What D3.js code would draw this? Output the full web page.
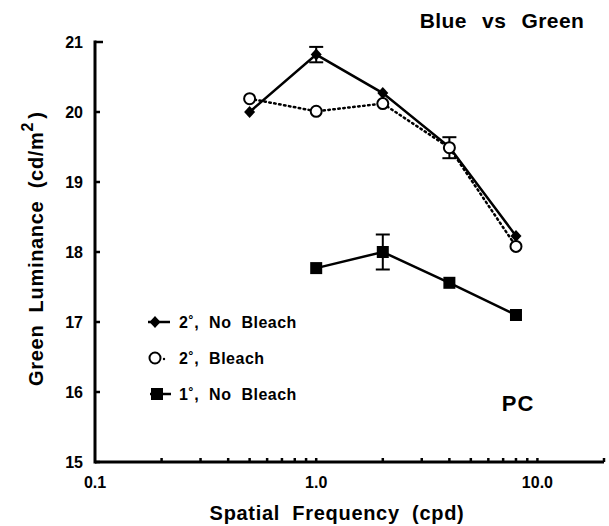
<!DOCTYPE html>
<html><head><meta charset="utf-8">
<script src="https://cdn.jsdelivr.net/npm/d3@7"></script>
<style>
body{margin:0;background:#fff;}
svg{display:block;font-family:"Liberation Sans",Arial,Helvetica,sans-serif;font-weight:bold;}
</style></head>
<body>
<svg id="chart" width="609" height="526"></svg>
<script>
// ---- data ----
const frequencies2 = [0.5, 1, 2, 4, 8];
const noBleach2 = [20.0, 20.82, 20.27, 19.5, 18.23];
const bleach2 = [20.19, 20.01, 20.12, 19.49, 18.08];
const frequencies1 = [1, 2, 4, 8];
const noBleach1 = [17.77, 18.0, 17.56, 17.1];
// error bars: [frequency, value, halfWidth]
const errNoBleach2 = [[1, 20.82, 0.11]];
const errBleach2 = [[4, 19.49, 0.15]];
const errNoBleach1 = [[2, 18.0, 0.25]];
const yTicks = [15, 16, 17, 18, 19, 20, 21];
const xMajorTicks = [0.1, 1, 10];
const xTickLabels = ["0.1", "1.0", "10.0"];
const xMinorTicks = [0.2,0.3,0.4,0.5,0.6,0.7,0.8,0.9,2,3,4,5,6,7,8,9,20];
const legendLabels = ["2˚, No Bleach", "2˚, Bleach", "1˚, No Bleach"];

const svg = d3.select("#chart");
const x = d3.scaleLog().domain([0.1, 20]).range([95, 604]);
const y = d3.scaleLinear().domain([15, 21]).range([462, 42]);

// axes
const g = svg.append("g");
g.append("line").attr("x1", x(0.1)).attr("x2", x(20)).attr("y1", y(15)).attr("y2", y(15))
  .attr("stroke", "#000").attr("stroke-width", 3);
g.append("line").attr("x1", x(0.1)).attr("x2", x(0.1)).attr("y1", y(15)+1.5).attr("y2", y(21)-1.5)
  .attr("stroke", "#000").attr("stroke-width", 3);
// y ticks (inward)
g.selectAll(".yt").data(yTicks).enter().append("line")
  .attr("x1", x(0.1)).attr("x2", d => x(0.1) + (d === 21 ? 8 : 5))
  .attr("y1", d => y(d)).attr("y2", d => y(d)).attr("stroke", "#000").attr("stroke-width", 2.5);
g.selectAll(".ytl").data(yTicks).enter().append("text")
  .attr("x", 83).attr("y", d => y(d)).attr("dy", "0.35em").attr("text-anchor", "end")
  .attr("font-size", 16).text(d => d);
// x ticks (inward)
g.selectAll(".xt").data(xMinorTicks.concat(xMajorTicks.slice(1))).enter().append("line")
  .attr("x1", d => x(d)).attr("x2", d => x(d)).attr("y1", y(15)).attr("y2", y(15) - 4)
  .attr("stroke", "#000").attr("stroke-width", 2.5);
g.selectAll(".xtl").data(xMajorTicks).enter().append("text")
  .attr("x", (d) => x(d)).attr("y", 488).attr("text-anchor", "middle")
  .attr("font-size", 16).text((d, i) => xTickLabels[i]);

// axis titles
svg.append("text").attr("x", 337).attr("y", 520).attr("text-anchor", "middle")
  .attr("font-size", 20).attr("word-spacing", 6).attr("letter-spacing", 0.7)
  .text("Spatial Frequency (cpd)");
const yl = svg.append("text").attr("transform", "translate(43,386) rotate(-90)")
  .attr("text-anchor", "start").attr("font-size", 20).attr("word-spacing", 6).attr("letter-spacing", 0.7);
yl.append("tspan").text("Green Luminance (cd/m");
yl.append("tspan").attr("dy", -10).attr("font-size", 16).text("2");
yl.append("tspan").attr("dy", 10).attr("dx", 3).text(")");

// title & PC
svg.append("text").attr("x", 502).attr("y", 28).attr("text-anchor", "middle")
  .attr("font-size", 21).attr("word-spacing", 9).attr("letter-spacing", 0.4).text("Blue vs Green");
svg.append("text").attr("x", 518).attr("y", 411).attr("text-anchor", "middle")
  .attr("font-size", 22).attr("letter-spacing", 1).text("PC");

// lines
const line = d3.line().x(d => x(d[0])).y(d => y(d[1]));
const s1 = frequencies2.map((f, i) => [f, noBleach2[i]]);
const s2 = frequencies2.map((f, i) => [f, bleach2[i]]);
const s3 = frequencies1.map((f, i) => [f, noBleach1[i]]);

svg.append("path").datum(s2).attr("d", line).attr("fill", "none").attr("stroke", "#000")
  .attr("stroke-width", 2.5).attr("stroke-dasharray", "1.5,3.5").attr("stroke-linecap", "round");
svg.append("path").datum(s1).attr("d", line).attr("fill", "none").attr("stroke", "#000").attr("stroke-width", 2.5);
svg.append("path").datum(s3).attr("d", line).attr("fill", "none").attr("stroke", "#000").attr("stroke-width", 2.5);

// error bars
function errBars(data) {
  const eg = svg.append("g").attr("stroke", "#000").attr("stroke-width", 2);
  data.forEach(([f, v, e]) => {
    eg.append("line").attr("x1", x(f)).attr("x2", x(f)).attr("y1", y(v + e)).attr("y2", y(v - e));
    [v + e, v - e].forEach(c => eg.append("line").attr("x1", x(f) - 7).attr("x2", x(f) + 7)
      .attr("y1", y(c)).attr("y2", y(c)));
  });
}
errBars(errNoBleach2); errBars(errBleach2); errBars(errNoBleach1);

// markers
const diamond = "M0,-6L5.5,0L0,6L-5.5,0Z";
function diamonds(data) {
  svg.append("g").selectAll("path").data(data).enter().append("path")
    .attr("d", diamond).attr("transform", d => `translate(${x(d[0])},${y(d[1])})`).attr("fill", "#000");
}
function circles(data) {
  svg.append("g").selectAll("circle").data(data).enter().append("circle")
    .attr("cx", d => x(d[0])).attr("cy", d => y(d[1])).attr("r", 5.5)
    .attr("fill", "#fff").attr("stroke", "#000").attr("stroke-width", 2);
}
function squares(data) {
  svg.append("g").selectAll("rect").data(data).enter().append("rect")
    .attr("x", d => x(d[0]) - 6).attr("y", d => y(d[1]) - 6).attr("width", 12).attr("height", 12)
    .attr("fill", "#000");
}
diamonds(s1);
circles(s2);
squares(s3);

// legend
const lg = svg.append("g");
const ly = [322, 358, 394];
lg.append("line").attr("x1", 148).attr("x2", 170).attr("y1", ly[0]).attr("y2", ly[0]).attr("stroke", "#000").attr("stroke-width", 2.5);
lg.append("path").attr("d", diamond).attr("transform", `translate(155,${ly[0]})`).attr("fill", "#000");
lg.append("circle").attr("cx", 155).attr("cy", ly[1]).attr("r", 5.5).attr("fill", "#fff").attr("stroke", "#000").attr("stroke-width", 2);
lg.append("circle").attr("cx", 164).attr("cy", ly[1] + 1).attr("r", 1.2).attr("fill", "#000");
lg.append("line").attr("x1", 150).attr("x2", 171).attr("y1", ly[2]).attr("y2", ly[2]).attr("stroke", "#000").attr("stroke-width", 2.5);
lg.append("rect").attr("x", 151).attr("y", ly[2] - 6).attr("width", 12).attr("height", 12).attr("fill", "#000");
lg.selectAll("text").data(legendLabels).enter().append("text")
  .attr("x", 179).attr("y", (d, i) => ly[i]).attr("dy", "0.36em")
  .attr("font-size", 16).attr("word-spacing", 5).attr("letter-spacing", 0.5).text(d => d);
</script>
</body></html>
